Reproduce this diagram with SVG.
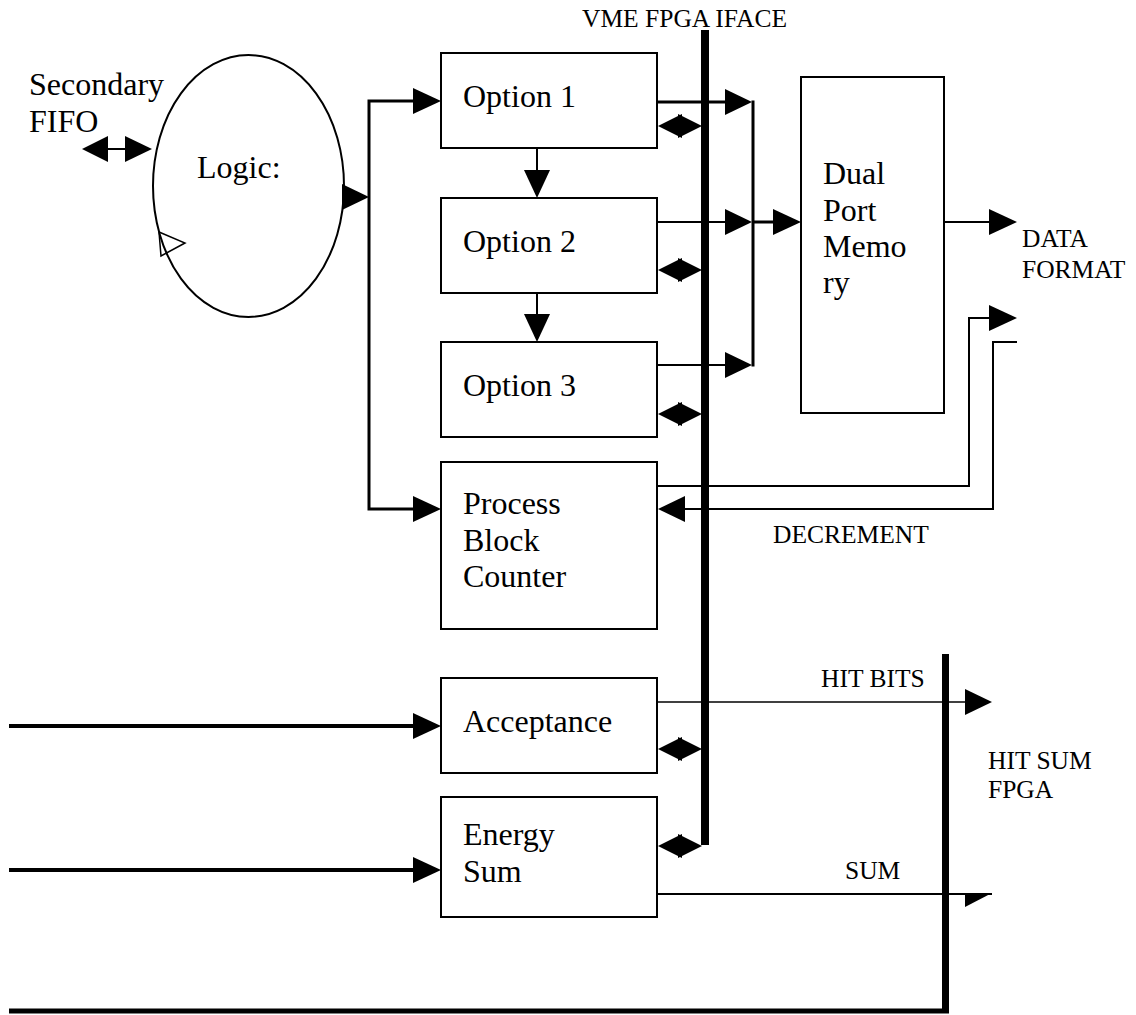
<svg xmlns="http://www.w3.org/2000/svg" width="1136" height="1015" viewBox="0 0 1136 1015">
<style>
.box{fill:#fff;stroke:#000;stroke-width:2}
.t{font-family:"Liberation Serif","Times New Roman",serif;font-size:32px;fill:#000}
.s{font-family:"Liberation Serif","Times New Roman",serif;font-size:25.5px;fill:#000}
.ln{fill:none;stroke:#000;stroke-width:2}
.ln3{fill:none;stroke:#000;stroke-width:3}
.ln4{fill:none;stroke:#000;stroke-width:4}
.bar{fill:none;stroke:#000;stroke-width:8}
.hd{fill:#000;stroke:none}
</style>
<defs>
<g id="dbl" class="hd"><polygon points="0,0 24,-12 24,12"/><polygon points="44,0 20,-12 20,12"/></g>
</defs>
<rect width="1136" height="1015" fill="#fff"/>
<g id="connectors">
<!-- VME bus bar -->
<line class="bar" x1="705" y1="30" x2="705" y2="845"/>
<!-- HIT SUM bar -->
<line x1="945.5" y1="654" x2="945.5" y2="1013" stroke="#000" stroke-width="7"/>
<line x1="9" y1="1011" x2="949" y2="1011" stroke="#000" stroke-width="5"/>
<!-- Secondary FIFO double arrow -->
<line class="ln" x1="108" y1="149" x2="125" y2="149"/>
<polygon class="hd" points="82,149 108,136 108,162"/>
<polygon class="hd" points="125,136 125,162 152,149"/>
<!-- open triangle on ellipse -->
<polygon points="159,232 161,256 185,243" fill="#fff" stroke="#000" stroke-width="1.5"/>
<!-- Logic to bus -->
<polygon class="hd" points="342,184 369,197 342,210"/>
<polyline class="ln3" points="413,101 369,101 369,509 413,509"/>
<polygon class="hd" points="413,88 441,101 413,114"/>
<polygon class="hd" points="413,496 441,509 413,522"/>
<!-- down arrows between options -->
<line class="ln" x1="537" y1="148" x2="537" y2="172"/>
<polygon class="hd" points="524,170 550,170 537,198"/>
<line class="ln" x1="537" y1="293" x2="537" y2="316"/>
<polygon class="hd" points="524,314 550,314 537,342"/>
<!-- options to dual port -->
<line class="ln3" x1="657" y1="102" x2="727" y2="102"/>
<polygon class="hd" points="725,89 752,102 725,115"/>
<line class="ln" x1="657" y1="222" x2="727" y2="222"/>
<polygon class="hd" points="725,209 752,222 725,235"/>
<line class="ln" x1="657" y1="365" x2="727" y2="365"/>
<polygon class="hd" points="725,352 752,365 725,378"/>
<line class="ln3" x1="753" y1="100.5" x2="753" y2="366.5"/>
<line class="ln3" x1="753" y1="222" x2="775" y2="222"/>
<polygon class="hd" points="773,209 801,222 773,235"/>
<!-- dual port output -->
<line class="ln" x1="944" y1="222" x2="991" y2="222"/>
<polygon class="hd" points="989,209 1017,222 989,235"/>
<!-- process block counter lines -->
<polyline class="ln" points="657,486 969,486 969,318 991,318"/>
<polygon class="hd" points="989,305 1017,318 989,331"/>
<polyline class="ln" points="1017,342 993,342 993,509 683,509"/>
<polygon class="hd" points="685,496 658,509 685,522"/>
<!-- VME double arrows -->
<use href="#dbl" x="658" y="126"/>
<use href="#dbl" x="658" y="270"/>
<use href="#dbl" x="658" y="414"/>
<use href="#dbl" x="658" y="749"/>
<use href="#dbl" x="658" y="846"/>
<!-- left inputs -->
<line class="ln4" x1="9" y1="726" x2="415" y2="726"/>
<polygon class="hd" points="413,713 441,726 413,739"/>
<line class="ln4" x1="9" y1="870" x2="415" y2="870"/>
<polygon class="hd" points="413,857 441,870 413,883"/>
<!-- HIT BITS / SUM -->
<line x1="657" y1="702" x2="967" y2="702" stroke="#000" stroke-width="1.5"/>
<polygon class="hd" points="965,689 992,702 965,715"/>
<line x1="657" y1="894" x2="992" y2="894" stroke="#000" stroke-width="2"/>
<polygon class="hd" points="965,893 992,893 965,907"/>
</g>
<g id="logic">
<ellipse cx="248.5" cy="186" rx="95.5" ry="131" fill="none" stroke="#000" stroke-width="2"/>
<text class="t" x="197" y="178">Logic:</text>
</g>
<g id="secondary-fifo">
<text class="t" x="29" y="95">Secondary</text>
<text class="t" x="29" y="132">FIFO</text>
</g>
<g id="option1">
<rect class="box" x="441" y="53" width="216" height="95"/>
<text class="t" x="463" y="107">Option 1</text>
</g>
<g id="option2">
<rect class="box" x="441" y="198" width="216" height="95"/>
<text class="t" x="463" y="252">Option 2</text>
</g>
<g id="option3">
<rect class="box" x="441" y="342" width="216" height="95"/>
<text class="t" x="463" y="396">Option 3</text>
</g>
<g id="process">
<rect class="box" x="441" y="462" width="216" height="167"/>
<text class="t" x="463" y="514">Process</text>
<text class="t" x="463" y="551">Block</text>
<text class="t" x="463" y="587">Counter</text>
</g>
<g id="acceptance">
<rect class="box" x="441" y="678" width="216" height="95"/>
<text class="t" x="463" y="732">Acceptance</text>
</g>
<g id="energy">
<rect class="box" x="441" y="797" width="216" height="120"/>
<text class="t" x="463" y="845">Energy</text>
<text class="t" x="463" y="882">Sum</text>
</g>
<g id="dualport">
<rect class="box" x="801" y="77" width="143" height="336"/>
<text class="t" x="823" y="184">Dual</text>
<text class="t" x="823" y="221">Port</text>
<text class="t" x="823" y="257">Memo</text>
<text class="t" x="823" y="293">ry</text>
</g>
<g id="labels">
<text class="s" x="582" y="27">VME FPGA IFACE</text>
<text class="s" x="1022" y="247">DATA</text>
<text class="s" x="1022" y="278">FORMAT</text>
<text class="s" x="773" y="543">DECREMENT</text>
<text class="s" x="821" y="687">HIT BITS</text>
<text class="s" x="988" y="769">HIT SUM</text>
<text class="s" x="988" y="798">FPGA</text>
<text class="s" x="845" y="879">SUM</text>
</g>
</svg>
